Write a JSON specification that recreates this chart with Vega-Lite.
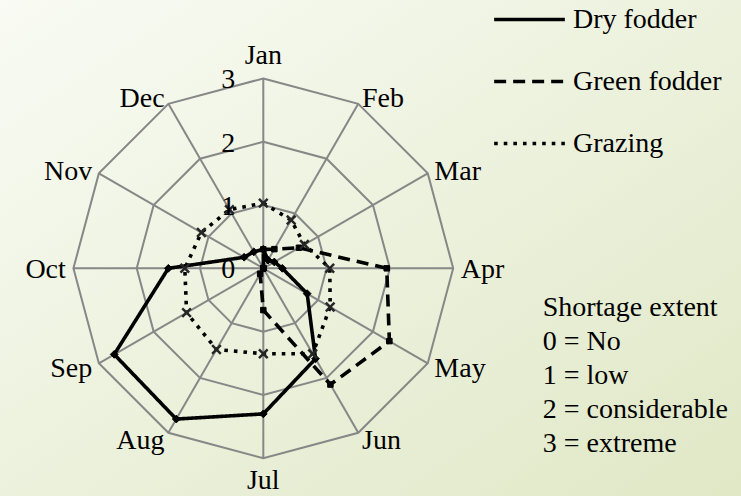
{
  "$schema": "https://vega.github.io/schema/vega-lite/v6.json",
  "width": 741,
  "height": 496,
  "autosize": {"type": "fit", "contains": "padding"},
  "padding": 0,
  "background": "#eef3e2",
  "config": {
    "view": {"stroke": null, "fill": {"gradient": "linear", "x1": 0, "y1": 0, "x2": 1, "y2": 1, "stops": [{"offset": 0, "color": "#f9fbf4"}, {"offset": 1, "color": "#e0e8c6"}]}},
    "font": "Liberation Serif",
    "text": {"font": "Liberation Serif", "fontSize": 28, "color": "#000000"},
    "legend": {"labelFont": "Liberation Serif", "titleFont": "Liberation Serif"}
  },
  "datasets": {
    "months": [
      {"month": "Jan", "i": 0, "rings": [1, 2, 3]},
      {"month": "Feb", "i": 1, "rings": [1, 2, 3]},
      {"month": "Mar", "i": 2, "rings": [1, 2, 3]},
      {"month": "Apr", "i": 3, "rings": [1, 2, 3]},
      {"month": "May", "i": 4, "rings": [1, 2, 3]},
      {"month": "Jun", "i": 5, "rings": [1, 2, 3]},
      {"month": "Jul", "i": 6, "rings": [1, 2, 3]},
      {"month": "Aug", "i": 7, "rings": [1, 2, 3]},
      {"month": "Sep", "i": 8, "rings": [1, 2, 3]},
      {"month": "Oct", "i": 9, "rings": [1, 2, 3]},
      {"month": "Nov", "i": 10, "rings": [1, 2, 3]},
      {"month": "Dec", "i": 11, "rings": [1, 2, 3]}
    ],
    "shortage": [
      {"month": "Jan", "i": 0, "series": "Dry fodder", "value": 0.3},
      {"month": "Feb", "i": 1, "series": "Dry fodder", "value": 0.15},
      {"month": "Mar", "i": 2, "series": "Dry fodder", "value": 0.2},
      {"month": "Apr", "i": 3, "series": "Dry fodder", "value": 0.3},
      {"month": "May", "i": 4, "series": "Dry fodder", "value": 0.8},
      {"month": "Jun", "i": 5, "series": "Dry fodder", "value": 1.65},
      {"month": "Jul", "i": 6, "series": "Dry fodder", "value": 2.3},
      {"month": "Aug", "i": 7, "series": "Dry fodder", "value": 2.75},
      {"month": "Sep", "i": 8, "series": "Dry fodder", "value": 2.72},
      {"month": "Oct", "i": 9, "series": "Dry fodder", "value": 1.5},
      {"month": "Nov", "i": 10, "series": "Dry fodder", "value": 0.35},
      {"month": "Dec", "i": 11, "series": "Dry fodder", "value": 0.3},
      {"month": "Jan", "i": 0, "series": "Green fodder", "value": 0.3},
      {"month": "Feb", "i": 1, "series": "Green fodder", "value": 0.35},
      {"month": "Mar", "i": 2, "series": "Green fodder", "value": 0.65},
      {"month": "Apr", "i": 3, "series": "Green fodder", "value": 1.95},
      {"month": "May", "i": 4, "series": "Green fodder", "value": 2.3},
      {"month": "Jun", "i": 5, "series": "Green fodder", "value": 2.12},
      {"month": "Jul", "i": 6, "series": "Green fodder", "value": 0.66},
      {"month": "Aug", "i": 7, "series": "Green fodder", "value": 0.1},
      {"month": "Sep", "i": 8, "series": "Green fodder", "value": 0},
      {"month": "Oct", "i": 9, "series": "Green fodder", "value": 0},
      {"month": "Nov", "i": 10, "series": "Green fodder", "value": 0},
      {"month": "Dec", "i": 11, "series": "Green fodder", "value": 0},
      {"month": "Jan", "i": 0, "series": "Grazing", "value": 1.03},
      {"month": "Feb", "i": 1, "series": "Grazing", "value": 0.88},
      {"month": "Mar", "i": 2, "series": "Grazing", "value": 0.75},
      {"month": "Apr", "i": 3, "series": "Grazing", "value": 1.05},
      {"month": "May", "i": 4, "series": "Grazing", "value": 1.22},
      {"month": "Jun", "i": 5, "series": "Grazing", "value": 1.56},
      {"month": "Jul", "i": 6, "series": "Grazing", "value": 1.35},
      {"month": "Aug", "i": 7, "series": "Grazing", "value": 1.48},
      {"month": "Sep", "i": 8, "series": "Grazing", "value": 1.4},
      {"month": "Oct", "i": 9, "series": "Grazing", "value": 1.24},
      {"month": "Nov", "i": 10, "series": "Grazing", "value": 1.13},
      {"month": "Dec", "i": 11, "series": "Grazing", "value": 1.07}
    ],
    "ticks": [{"v": "0"}, {"v": "1"}, {"v": "2"}, {"v": "3"}]
  },
  "layer": [
    {
      "data": {"name": "months"},
      "transform": [
        {"flatten": ["rings"], "as": ["ring"]},
        {"calculate": "datum.ring * sin(datum.i * PI / 6)", "as": "px"},
        {"calculate": "datum.ring * cos(datum.i * PI / 6)", "as": "py"}
      ],
      "mark": {"type": "line", "interpolate": "linear-closed", "stroke": "#878787", "strokeWidth": 2},
      "encoding": {
        "x": {"field": "px", "type": "quantitative", "scale": {"domain": [-4.16, 7.547], "nice": false, "zero": false}, "axis": null},
        "y": {"field": "py", "type": "quantitative", "scale": {"domain": [-3.597, 4.239], "nice": false, "zero": false}, "axis": null},
        "detail": {"field": "ring", "type": "nominal"},
        "order": {"field": "i", "type": "quantitative"}
      }
    },
    {
      "data": {"name": "months"},
      "transform": [
        {"calculate": "3 * sin(datum.i * PI / 6)", "as": "px"},
        {"calculate": "3 * cos(datum.i * PI / 6)", "as": "py"}
      ],
      "mark": {"type": "rule", "stroke": "#878787", "strokeWidth": 2},
      "encoding": {
        "x": {"field": "px", "type": "quantitative"},
        "y": {"field": "py", "type": "quantitative"},
        "x2": {"datum": 0},
        "y2": {"datum": 0}
      }
    },
    {
      "data": {"name": "shortage"},
      "transform": [
        {"calculate": "datum.value * sin(datum.i * PI / 6)", "as": "px"},
        {"calculate": "datum.value * cos(datum.i * PI / 6)", "as": "py"}
      ],
      "mark": {"type": "line", "interpolate": "linear-closed", "stroke": "#000000", "strokeWidth": 3.6, "strokeCap": "butt", "strokeJoin": "round"},
      "encoding": {
        "x": {"field": "px", "type": "quantitative"},
        "y": {"field": "py", "type": "quantitative"},
        "order": {"field": "i", "type": "quantitative"},
        "strokeDash": {
          "field": "series", "type": "nominal",
          "scale": {"domain": ["Dry fodder", "Green fodder", "Grazing"], "range": [[1, 0], [12, 7], [3.6, 6]]},
          "legend": {
            "title": null, "orient": "none", "legendX": 492, "legendY": -18,
            "symbolType": "stroke", "symbolSize": 5000, "symbolStrokeWidth": 3.6, "symbolStrokeColor": "#000000",
            "labelFont": "Liberation Serif", "labelFontSize": 28, "labelColor": "#000000", "labelOffset": 6,
            "rowPadding": 10
          }
        }
      }
    },
    {
      "data": {"name": "shortage"},
      "transform": [
        {"filter": "datum.series == 'Dry fodder'"},
        {"calculate": "datum.value * sin(datum.i * PI / 6)", "as": "px"},
        {"calculate": "datum.value * cos(datum.i * PI / 6)", "as": "py"}
      ],
      "mark": {"type": "point", "shape": "diamond", "filled": true, "fill": "#000000", "stroke": "#000000", "strokeWidth": 1, "size": 60, "opacity": 1},
      "encoding": {
        "x": {"field": "px", "type": "quantitative"},
        "y": {"field": "py", "type": "quantitative"}
      }
    },
    {
      "data": {"name": "shortage"},
      "transform": [
        {"filter": "datum.series == 'Green fodder'"},
        {"calculate": "datum.value * sin(datum.i * PI / 6)", "as": "px"},
        {"calculate": "datum.value * cos(datum.i * PI / 6)", "as": "py"}
      ],
      "mark": {"type": "point", "shape": "square", "filled": true, "fill": "#000000", "stroke": "#000000", "strokeWidth": 1, "size": 30, "opacity": 1},
      "encoding": {
        "x": {"field": "px", "type": "quantitative"},
        "y": {"field": "py", "type": "quantitative"}
      }
    },
    {
      "data": {"name": "shortage"},
      "transform": [
        {"filter": "datum.series == 'Grazing'"},
        {"calculate": "datum.value * sin(datum.i * PI / 6)", "as": "px"},
        {"calculate": "datum.value * cos(datum.i * PI / 6)", "as": "py"}
      ],
      "mark": {"type": "point", "shape": "M-1,-1L1,1M1,-1L-1,1", "filled": false, "stroke": "#262626", "strokeWidth": 2.5, "size": 75, "opacity": 1},
      "encoding": {
        "x": {"field": "px", "type": "quantitative"},
        "y": {"field": "py", "type": "quantitative"}
      }
    },
    {
      "data": {"name": "months"},
      "transform": [
        {"filter": "datum.i >= 1 && datum.i <= 5"},
        {"calculate": "3.12 * sin(datum.i * PI / 6)", "as": "px"},
        {"calculate": "3.12 * cos(datum.i * PI / 6)", "as": "py"}
      ],
      "mark": {"type": "text", "font": "Liberation Serif", "fontSize": 28, "align": "left", "baseline": "middle", "dy": 2},
      "encoding": {
        "x": {"field": "px", "type": "quantitative"},
        "y": {"field": "py", "type": "quantitative"},
        "text": {"field": "month"}
      }
    },
    {
      "data": {"name": "months"},
      "transform": [
        {"filter": "datum.i >= 7"},
        {"calculate": "3.12 * sin(datum.i * PI / 6)", "as": "px"},
        {"calculate": "3.12 * cos(datum.i * PI / 6)", "as": "py"}
      ],
      "mark": {"type": "text", "font": "Liberation Serif", "fontSize": 28, "align": "right", "baseline": "middle", "dy": 2},
      "encoding": {
        "x": {"field": "px", "type": "quantitative"},
        "y": {"field": "py", "type": "quantitative"},
        "text": {"field": "month"}
      }
    },
    {
      "data": {"name": "months"},
      "transform": [
        {"filter": "datum.i == 0"},
        {"calculate": "3.12 * sin(datum.i * PI / 6)", "as": "px"},
        {"calculate": "3.12 * cos(datum.i * PI / 6)", "as": "py"}
      ],
      "mark": {"type": "text", "font": "Liberation Serif", "fontSize": 28, "align": "center", "baseline": "alphabetic", "dy": -7},
      "encoding": {
        "x": {"field": "px", "type": "quantitative"},
        "y": {"field": "py", "type": "quantitative"},
        "text": {"field": "month"}
      }
    },
    {
      "data": {"name": "months"},
      "transform": [
        {"filter": "datum.i == 6"},
        {"calculate": "3.12 * sin(datum.i * PI / 6)", "as": "px"},
        {"calculate": "3.12 * cos(datum.i * PI / 6)", "as": "py"}
      ],
      "mark": {"type": "text", "font": "Liberation Serif", "fontSize": 28, "align": "center", "baseline": "top", "dy": 1},
      "encoding": {
        "x": {"field": "px", "type": "quantitative"},
        "y": {"field": "py", "type": "quantitative"},
        "text": {"field": "month"}
      }
    },
    {
      "data": {"name": "ticks"},
      "mark": {"type": "text", "font": "Liberation Serif", "fontSize": 28, "align": "center", "baseline": "middle", "dx": -35, "dy": 2},
      "encoding": {
        "x": {"datum": 0},
        "y": {"field": "v", "type": "quantitative"},
        "text": {"field": "v", "type": "nominal"}
      }
    },
    {
      "data": {"values": [{"note": "Shortage extent"}]},
      "mark": {"type": "text", "font": "Liberation Serif", "fontSize": 28, "align": "left", "baseline": "alphabetic", "lineHeight": 34},
      "encoding": {
        "x": {"datum": 4.414},
        "y": {"datum": -0.754},
        "text": {"value": ["Shortage extent", "0 = No", "1 = low", "2 = considerable", "3 = extreme"]}
      }
    }
  ]
}
